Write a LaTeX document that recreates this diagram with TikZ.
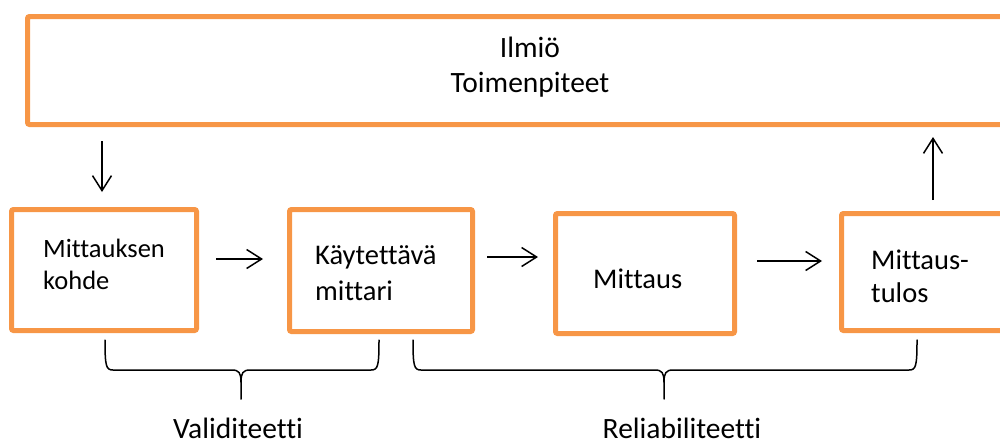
\documentclass[tikz,border=0pt]{standalone}
\usepackage{fontspec}
\setmainfont{Carlito}[Ligatures=NoCommon]
\usetikzlibrary{arrows.meta,calc}
\definecolor{boxorange}{HTML}{F79646}
\newcommand\fsz[2]{\fontsize{#1}{#2}\selectfont}
\tikzset{
  boxnode/.style={draw=boxorange, line width=5pt, rounded corners=2pt, fill=none, inner sep=0pt},
  txt/.style={inner sep=0pt, anchor=base west, align=left},
  arr/.style={line width=1.5pt, -{Straight Barb[length=15pt,width=19pt]}},
  brc/.style={line width=1.5pt, line cap=round},
}
\newcommand\drawbrace[3]{%
  \draw[brc] (#1,340) .. controls (#1,366) and (#1+1,370) .. (#1+8,370) -- (#2-9,370) .. controls (#2-2,370) and (#2,373) .. (#2,382) -- (#2,399);
  \draw[brc] (#3,340) .. controls (#3,366) and (#3-1,370) .. (#3-8,370) -- (#2+9,370) .. controls (#2+2,370) and (#2,373) .. (#2,382);
}
\begin{document}
\begin{tikzpicture}[x=1pt,y=-1pt]
\useasboundingbox (0,0) rectangle (1000,445);
\clip (0,0) rectangle (1000,445);
% boxes
\node[boxnode, minimum width=1005, minimum height=108] (top) at (530,70.5) {};
\node[boxnode, minimum width=185, minimum height=121] (b1) at (104,270) {};
\node[boxnode, minimum width=183, minimum height=122] (b2) at (381,270.5) {};
\node[boxnode, minimum width=179, minimum height=120] (b3) at (645,273.5) {};
\node[boxnode, minimum width=190, minimum height=117] (b4) at (936.5,272) {};
% texts (base anchor = baseline of last line)
\node[txt, anchor=base, align=center, font=\fsz{29.5}{34.3}] (ttop) at (530,92) {Ilmiö\\Toimenpiteet};
\node[txt, font=\fsz{26.5}{31.7}] (t1) at (43,289.3) {Mittauksen\\kohde};
\node[txt, font=\fsz{28.5}{36}] (t2) at (315,300) {Käytettävä\\mittari};
\node[txt, font=\fsz{28.5}{34}] (t3) at (593,288.3) {Mittaus};
\node[txt, font=\fsz{28.5}{33.3}] (t4) at (871,302.3) {Mittaus-\\tulos};
\node[txt, anchor=base, font=\fsz{29.5}{34}] (lv) at (238,438) {Validiteetti};
\node[txt, anchor=base, font=\fsz{29.5}{34}] (lr) at (682,438) {Reliabiliteetti};
% arrows
\draw[arr] ($(top.south -| b1.north)+(-2,14)$) -- ($(b1.north)+(-2,-15)$);
\draw[arr] ($(b1.east)+(17,-11)$) -- ($(b2.west)+(-24,-11.5)$);
\draw[arr] ($(b2.east)+(12,-13.5)$) -- ($(b3.west)+(-15,-16.5)$);
\draw[arr] ($(b3.east)+(20,-12.5)$) -- ($(b4.west)+(-17,-11)$);
\draw[arr] ($(b4.north west)+(94,-11)$) -- ($(top.south -| b4.north west)+(94,10)$);
% braces
\drawbrace{105}{241}{379}
\drawbrace{413}{664}{917}
\end{tikzpicture}
\end{document}
